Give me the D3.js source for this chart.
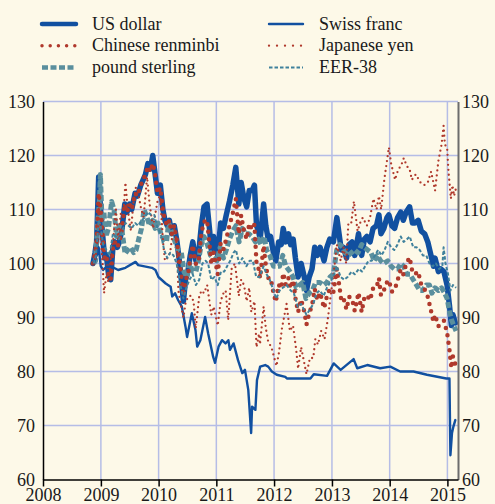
<!DOCTYPE html>
<html><head><meta charset="utf-8">
<script src="https://cdn.jsdelivr.net/npm/d3@7"></script>
<style>html,body{margin:0;padding:0;background:#fdf9e8;}svg{display:block;} text{font-family:"Liberation Serif","Times New Roman",serif;}</style>
</head><body>
<svg id="chart" width="495" height="504"></svg>
<script>
// ---- data (index, start of period = 100) ----
const usDollar = [["2008-11-12",100],["2008-11-25",102],["2008-12-05",104],["2008-12-18",116],["2008-12-30",110],["2009-01-10",106],["2009-01-25",101],["2009-02-05",101.5],["2009-02-18",98],["2009-03-04",97],["2009-03-18",103],["2009-03-30",104],["2009-04-15",103],["2009-04-28",104],["2009-05-15",106.5],["2009-06-01",111],["2009-06-15",109.5],["2009-07-01",111],["2009-07-15",110],["2009-08-05",113],["2009-08-20",112.5],["2009-09-10",114.5],["2009-09-25",115.5],["2009-10-10",116.5],["2009-10-25",118.5],["2009-11-10",117.5],["2009-11-25",120],["2009-12-10",116.5],["2009-12-25",113],["2010-01-12",114.5],["2010-01-28",110],["2010-02-10",108],["2010-02-25",107],["2010-03-10",108],["2010-03-25",105.5],["2010-04-10",107],["2010-04-25",104.5],["2010-05-10",101],["2010-05-25",97],["2010-06-07",93],["2010-06-20",97],["2010-07-05",98.5],["2010-07-20",101.5],["2010-08-05",104],["2010-08-25",100.5],["2010-09-10",101.5],["2010-09-28",107],["2010-10-15",110.5],["2010-11-03",111],["2010-11-20",106],["2010-11-30",102.5],["2010-12-15",105],["2011-01-10",101.5],["2011-01-28",107.5],["2011-02-15",106.5],["2011-03-05",109],["2011-03-25",111.5],["2011-04-15",114.5],["2011-05-04",117.8],["2011-05-23",111],["2011-06-07",115],["2011-06-25",112],["2011-07-12",110.5],["2011-07-28",113.5],["2011-08-15",113.5],["2011-08-30",114.5],["2011-09-12",107],["2011-09-25",106],["2011-10-05",104.5],["2011-10-27",111],["2011-11-10",107],["2011-11-25",104.5],["2011-12-10",105],["2011-12-28",102],["2012-01-12",100.5],["2012-01-30",104],["2012-02-15",103.5],["2012-02-28",106.5],["2012-03-15",104],["2012-04-01",105.5],["2012-04-15",103.5],["2012-05-01",104.5],["2012-05-15",101],["2012-06-01",97.5],["2012-06-20",100],["2012-07-10",97.5],["2012-07-24",95],["2012-08-10",97.5],["2012-08-28",99],["2012-09-14",103],["2012-10-01",101.5],["2012-10-18",103],["2012-11-12",100.5],["2012-11-30",103],["2012-12-18",104.5],["2013-01-10",104],["2013-02-01",108.5],["2013-02-15",105.5],["2013-03-01",102.5],["2013-03-15",103],["2013-04-03",101],["2013-04-20",103.5],["2013-05-08",104],["2013-05-25",101.5],["2013-06-18",105.5],["2013-07-08",101.5],["2013-07-25",104.5],["2013-08-10",105],["2013-08-30",104],["2013-09-18",106.5],["2013-10-10",107],["2013-10-25",109],["2013-11-07",105.5],["2013-11-25",106.5],["2013-12-15",108.5],["2013-12-27",109],["2014-01-15",107],["2014-02-01",106.5],["2014-02-20",108.5],["2014-03-12",109.5],["2014-03-28",108],["2014-04-15",109.5],["2014-05-07",110.5],["2014-05-25",107.5],["2014-06-10",107.5],["2014-06-30",108],["2014-07-20",106],["2014-08-10",105.5],["2014-08-30",104],["2014-09-15",102],["2014-10-05",99.5],["2014-10-15",101],["2014-11-05",98.5],["2014-11-20",99],["2014-12-10",98.5],["2014-12-30",96],["2015-01-15",92],["2015-01-26",88.5],["2015-02-05",90.5],["2015-02-20",89]];

const chineseRenminbi = [["2008-11-12",100],["2008-11-25",102],["2008-12-05",104],["2008-12-18",113],["2008-12-30",110],["2009-01-10",106],["2009-01-25",101],["2009-02-05",101.5],["2009-02-18",98],["2009-03-04",97],["2009-03-18",103],["2009-03-30",104],["2009-04-15",103],["2009-04-28",104],["2009-05-15",106.5],["2009-06-01",111],["2009-06-15",109.5],["2009-07-01",111],["2009-07-15",110],["2009-08-05",113],["2009-08-20",112.5],["2009-09-10",114.5],["2009-09-25",115.5],["2009-10-10",116.5],["2009-10-25",118],["2009-11-10",117],["2009-11-25",118.5],["2009-12-10",116.5],["2009-12-25",113],["2010-01-12",114],["2010-01-28",110],["2010-02-10",108],["2010-02-25",107],["2010-03-10",108],["2010-03-25",105.5],["2010-04-10",107],["2010-04-25",104.5],["2010-05-10",101],["2010-05-25",97.5],["2010-06-07",94],["2010-06-20",97],["2010-07-05",97.8],["2010-07-20",100.8],["2010-08-05",103.4],["2010-08-25",99.9],["2010-09-10",100.2],["2010-09-28",105.6],["2010-10-15",107.7],["2010-11-03",108.1],["2010-11-20",103.2],["2010-11-30",99.8],["2010-12-15",102],["2011-01-10",98],["2011-01-28",103.7],["2011-02-15",102.6],["2011-03-05",104.6],["2011-03-25",107],["2011-04-15",109.3],["2011-05-04",112],["2011-05-23",105.5],["2011-06-07",108.9],["2011-06-25",106],["2011-07-12",104.5],["2011-07-28",107.4],["2011-08-15",106.3],["2011-08-30",107.2],["2011-09-12",100],["2011-09-25",99],["2011-10-05",97.3],["2011-10-27",103.3],["2011-11-10",99.6],["2011-11-25",97.3],["2011-12-10",97.3],["2011-12-28",94.6],["2012-01-12",92.9],["2012-01-30",96.1],["2012-02-15",95.4],["2012-02-28",98.2],["2012-03-15",96.1],["2012-04-01",97.3],["2012-04-15",95.4],["2012-05-01",96.9],["2012-05-15",93.6],["2012-06-01",91],["2012-06-20",93.3],["2012-07-10",91.1],["2012-07-24",88.7],["2012-08-10",90.8],["2012-08-28",92.2],["2012-09-14",95.3],["2012-10-01",93.2],["2012-10-18",94.6],["2012-11-12",91.7],["2012-11-30",93.9],["2012-12-18",95.3],["2013-01-10",94.7],["2013-02-01",99],["2013-02-15",96.2],["2013-03-01",93.2],["2013-03-15",93.6],["2013-04-03",91.5],["2013-04-20",93.8],["2013-05-08",93.5],["2013-05-25",91.2],["2013-06-18",94.6],["2013-07-08",91],["2013-07-25",93.7],["2013-08-10",94.1],["2013-08-30",93.2],["2013-09-18",95.4],["2013-10-10",95.6],["2013-10-25",97.3],["2013-11-07",94.1],["2013-11-25",95],["2013-12-15",96.5],["2013-12-27",96.9],["2014-01-15",94.8],["2014-02-01",95.1],["2014-02-20",96.9],["2014-03-12",98.9],["2014-03-28",98],["2014-04-15",99.9],["2014-05-07",101.1],["2014-05-25",98.4],["2014-06-10",98],["2014-06-30",98.5],["2014-07-20",96],["2014-08-10",95.2],["2014-08-30",93.8],["2014-09-15",91.8],["2014-10-05",89.2],["2014-10-15",90.5],["2014-11-05",88.4],["2014-11-20",88.8],["2014-12-10",89.4],["2014-12-30",87.2],["2015-01-15",83.8],["2015-01-26",80.6],["2015-02-05",82.8],["2015-02-20",81.4]];

const poundSterling = [["2008-11-17",100],["2008-11-28",100.5],["2008-12-10",107],["2008-12-22",111],["2008-12-29",116.5],["2009-01-08",108],["2009-01-20",109.5],["2009-02-02",105],["2009-02-18",106.5],["2009-03-10",111.5],["2009-03-25",110],["2009-04-10",105],["2009-04-28",107],["2009-05-15",106],["2009-06-03",101.8],["2009-06-20",102.5],["2009-07-08",103],["2009-07-28",102],["2009-08-12",102.5],["2009-08-28",104.5],["2009-09-15",106.5],["2009-10-01",110],["2009-10-20",108.5],["2009-11-05",107],["2009-11-25",108],["2009-12-10",106.5],["2009-12-28",107.5],["2010-01-15",105.5],["2010-02-01",104.5],["2010-02-20",104],["2010-03-05",107.5],["2010-03-25",106],["2010-04-15",104],["2010-05-05",102.5],["2010-05-25",102],["2010-06-10",98.5],["2010-06-28",97.5],["2010-07-15",100],["2010-08-05",98.5],["2010-08-25",98.5],["2010-09-10",100.5],["2010-09-28",103.5],["2010-10-15",105],["2010-11-05",103.5],["2010-11-25",101.5],["2010-12-15",101],["2011-01-05",100.5],["2011-01-25",103],["2011-02-15",101],["2011-03-05",102.5],["2011-03-25",104.5],["2011-04-15",106],["2011-05-05",107],["2011-05-25",104],["2011-06-15",106.5],["2011-07-05",105.5],["2011-07-25",105.5],["2011-08-15",105],["2011-09-05",104],["2011-09-25",104.5],["2011-10-10",103.5],["2011-10-30",105],["2011-11-15",102.5],["2011-12-05",101.5],["2011-12-28",99.5],["2012-01-15",99.5],["2012-02-05",99.5],["2012-02-25",101.5],["2012-03-15",99.5],["2012-04-10",98.5],["2012-04-30",97.5],["2012-05-20",95.5],["2012-06-10",96],["2012-06-30",96.5],["2012-07-20",93.5],["2012-08-10",94.5],["2012-08-30",95],["2012-09-20",96.5],["2012-10-15",96.5],["2012-11-10",96],["2012-11-30",96.5],["2012-12-20",97.5],["2013-01-10",98],["2013-01-31",102.5],["2013-02-20",103.5],["2013-03-10",103],["2013-03-25",102],["2013-04-15",101.5],["2013-05-05",102],["2013-05-25",102.5],["2013-06-15",102],["2013-07-08",103.5],["2013-07-25",103],["2013-08-15",102.5],["2013-09-05",102],["2013-09-25",100.5],["2013-10-15",101.5],["2013-11-05",100.5],["2013-11-25",100],["2013-12-20",100.5],["2014-01-10",99.5],["2014-01-30",99],["2014-02-20",99],["2014-03-12",100],["2014-03-30",99.5],["2014-04-20",98],["2014-05-10",98],["2014-05-30",97],["2014-06-20",96],["2014-07-10",95],["2014-07-28",95],["2014-08-20",96],["2014-09-10",96],["2014-09-25",94.5],["2014-10-15",95.5],["2014-11-05",95],["2014-11-25",95.5],["2014-12-15",94.5],["2014-12-30",93.5],["2015-01-15",91],["2015-01-28",89.5],["2015-02-10",88.5],["2015-02-25",87.5]];

const swissFranc = [["2008-11-17",100],["2008-12-05",101.5],["2008-12-18",103],["2008-12-31",99.5],["2009-01-15",98.8],["2009-02-05",99.4],["2009-03-12",99.4],["2009-04-20",98.8],["2009-06-05",99.2],["2009-08-08",100.3],["2009-08-25",99.7],["2009-11-20",99.2],["2009-12-12",98.8],["2009-12-31",97.5],["2010-02-15",96.3],["2010-03-18",95.7],["2010-03-28",93.9],["2010-04-15",94.5],["2010-05-05",93.2],["2010-05-28",92],["2010-06-20",88.3],["2010-06-30",86.4],["2010-07-30",90.8],["2010-08-22",87.7],["2010-09-02",84.6],["2010-09-22",85.8],["2010-10-22",90.1],["2010-11-10",87.1],["2010-12-12",82.7],["2010-12-24",81.6],["2011-01-15",84.6],["2011-02-06",85.8],["2011-02-28",85.2],["2011-03-18",85.8],["2011-03-28",84],["2011-04-20",85.2],["2011-05-18",82.1],["2011-06-14",79.7],["2011-07-01",80.3],["2011-07-22",76.6],["2011-08-09",68.6],["2011-08-15",73.5],["2011-09-05",72.9],["2011-09-15",78.4],["2011-10-05",80.9],["2011-11-06",81.2],["2011-11-25",80.9],["2011-12-18",80],["2012-01-18",79.4],["2012-03-12",79],["2012-03-22",78.7],["2012-08-18",78.7],["2012-09-08",79.5],["2012-12-01",79.2],["2013-01-12",81.5],["2013-02-25",80.3],["2013-05-18",82.3],["2013-06-10",80.6],["2013-08-12",81.2],["2013-11-02",80.6],["2014-01-05",80.9],["2014-03-08",80],["2014-06-01",80],["2014-08-25",79.4],["2014-12-25",78.7],["2015-01-14",78.7],["2015-01-20",64.5],["2015-01-30",68.6],["2015-02-08",69.8],["2015-02-20",71]];

const japaneseYen = [["2008-11-17",100],["2008-11-28",101],["2008-12-10",104],["2008-12-18",111],["2008-12-30",105],["2009-01-12",100],["2009-01-21",94.5],["2009-02-05",98],["2009-02-18",96.5],["2009-03-05",101],["2009-03-19",104],["2009-04-06",110],["2009-04-20",104.5],["2009-05-08",109.5],["2009-05-25",110],["2009-06-05",115],["2009-06-20",110],["2009-07-10",106],["2009-07-28",112],["2009-08-10",114],["2009-08-25",113],["2009-09-10",110.5],["2009-09-28",108.5],["2009-10-20",116],["2009-11-05",111],["2009-11-27",106.5],["2009-12-10",109],["2009-12-28",112],["2010-01-11",112.5],["2010-01-29",104],["2010-02-10",100.5],["2010-02-25",101],["2010-03-15",102],["2010-03-30",105.5],["2010-04-13",106.5],["2010-04-27",103],["2010-05-06",95],["2010-05-20",92.5],["2010-06-07",90],["2010-06-22",93],["2010-07-12",94],["2010-07-25",94],["2010-08-10",93],["2010-08-24",88],["2010-09-15",94],["2010-09-30",95],["2010-10-15",94.5],["2010-11-04",96],["2010-11-30",90.5],["2010-12-15",92],["2011-01-10",88.5],["2011-01-28",93],["2011-02-15",94.5],["2011-03-01",95],["2011-03-17",89.5],["2011-04-08",99],["2011-04-29",100],["2011-05-23",94],["2011-06-07",97],["2011-06-25",96],["2011-07-12",93],["2011-07-28",95.5],["2011-08-10",91],["2011-08-30",93],["2011-09-12",84.5],["2011-09-28",87],["2011-10-04",85],["2011-10-27",92],["2011-11-10",88],["2011-11-25",85.5],["2011-12-15",84.5],["2011-12-29",83],["2012-01-16",81],["2012-02-01",83.5],["2012-02-20",88],["2012-03-20",92.5],["2012-04-10",87.5],["2012-04-30",88.5],["2012-05-20",84],["2012-06-01",80.5],["2012-06-20",84.5],["2012-07-24",79.5],["2012-08-15",82.5],["2012-09-05",82.5],["2012-09-18",86],["2012-10-05",85],["2012-10-25",87.5],["2012-11-15",86],["2012-12-05",89.5],["2012-12-28",95],["2013-01-15",99],["2013-02-01",103.5],["2013-02-25",100.5],["2013-03-15",103],["2013-04-01",100],["2013-04-15",107.5],["2013-05-03",107.5],["2013-05-20",111.5],["2013-06-12",106],["2013-06-28",107.5],["2013-07-15",108.5],["2013-08-10",107],["2013-08-30",108.5],["2013-09-20",112],["2013-10-10",110],["2013-10-25",112.5],["2013-11-08",110],["2013-11-28",115.5],["2013-12-27",121.5],["2014-01-10",118.5],["2014-02-04",115.5],["2014-02-25",117.5],["2014-03-13",118],["2014-03-31",119.5],["2014-04-20",118],["2014-05-07",117.5],["2014-05-21",115.5],["2014-06-15",116.5],["2014-07-15",115],["2014-08-07",114.5],["2014-08-30",115],["2014-09-20",117],["2014-10-15",113.5],["2014-11-05",119],["2014-11-25",122],["2014-12-08",125.5],["2014-12-16",122],["2014-12-30",121.5],["2015-01-08",117],["2015-01-23",112],["2015-02-02",114.5],["2015-02-12",112.5],["2015-02-25",114]];

const eer38 = [["2008-11-17",100],["2008-12-01",101.5],["2008-12-18",108],["2008-12-30",107],["2009-01-15",103.5],["2009-02-05",102.5],["2009-02-25",101.5],["2009-03-18",105.5],["2009-04-05",105],["2009-04-25",104.5],["2009-05-15",106],["2009-06-05",107.5],["2009-06-25",107],["2009-07-15",106.5],["2009-08-05",107.5],["2009-08-25",107],["2009-09-15",108],["2009-10-05",108.5],["2009-10-25",109.5],["2009-11-15",109],["2009-12-05",109],["2009-12-25",106.5],["2010-01-15",105.5],["2010-02-05",102.5],["2010-02-25",101],["2010-03-15",102],["2010-04-05",101.5],["2010-04-25",100],["2010-05-15",96.5],["2010-06-07",93.5],["2010-06-25",95.5],["2010-07-15",97],["2010-08-05",98],["2010-08-25",96],["2010-09-15",97],["2010-10-05",100],["2010-10-25",100.5],["2010-11-10",100],["2010-11-30",97],["2010-12-20",97.5],["2011-01-10",96],["2011-01-30",98.5],["2011-02-20",98.5],["2011-03-10",99.5],["2011-03-30",100.5],["2011-04-20",102],["2011-05-05",102.5],["2011-05-25",100],["2011-06-15",101],["2011-07-10",99.5],["2011-07-30",100.5],["2011-08-20",100.5],["2011-09-10",97.5],["2011-09-30",97.5],["2011-10-27",99.5],["2011-11-15",98],["2011-12-05",97],["2011-12-28",95],["2012-01-15",93.5],["2012-02-05",95],["2012-02-25",95.5],["2012-03-20",96],["2012-04-15",95],["2012-05-05",94.5],["2012-05-30",92],["2012-06-20",92.5],["2012-07-24",90.5],["2012-08-15",91.5],["2012-09-05",92.5],["2012-09-25",94.5],["2012-10-15",95],["2012-11-10",94],["2012-11-30",95.5],["2012-12-20",96.5],["2013-01-15",98],["2013-02-01",99.5],["2013-02-25",97.5],["2013-03-20",97],["2013-04-10",97.5],["2013-05-05",98.5],["2013-05-25",98],["2013-06-20",99],["2013-07-10",98.5],["2013-07-30",99.5],["2013-08-20",100.5],["2013-09-10",100.5],["2013-09-30",101.5],["2013-10-20",102.5],["2013-11-10",101.5],["2013-11-30",102.5],["2013-12-20",104],["2014-01-10",103],["2014-01-30",102.5],["2014-02-20",103.5],["2014-03-12",105],["2014-03-30",104],["2014-04-20",104.5],["2014-05-08",105],["2014-05-30",103],["2014-06-20",103],["2014-07-10",102.5],["2014-07-30",101.5],["2014-08-20",101.5],["2014-09-10",100],["2014-09-30",99.5],["2014-10-20",100],["2014-11-10",99],["2014-11-30",99.5],["2014-12-08",103],["2014-12-20",100],["2015-01-05",98],["2015-01-20",95],["2015-02-05",96],["2015-02-25",95.5]];

const yTickValues = [60, 70, 80, 90, 100, 110, 120, 130];
const xTickYears = [2008, 2009, 2010, 2011, 2012, 2013, 2014, 2015];
const seriesNames = ["US dollar", "Chinese renminbi", "pound sterling", "Swiss franc", "Japanese yen", "EER-38"];

(function () {
  const W = 495, H = 504;
  const mLeft = 43, mRight = 458, mTop = 101.5, mBottom = 479.5;
  const FONT = '"Liberation Serif", "Times New Roman", serif';
  const parse = d3.timeParse("%Y-%m-%d");

  const svg = d3.select("#chart");
  svg.append("rect").attr("width", W).attr("height", H).attr("fill", "#fdf9e8");

  const x = d3.scaleTime().domain([new Date(2008, 0, 1), new Date(2015, 2, 9)]).range([mLeft, mRight]);
  const y = d3.scaleLinear().domain([60, 130]).range([mBottom, mTop]);
  const tickDates = xTickYears.map(yr => new Date(yr, 0, 1));

  // grid
  const grid = svg.append("g").attr("stroke", "#b5bde6").attr("stroke-width", 1.5);
  grid.selectAll("line.h").data(yTickValues.filter(v => v > 60)).join("line").attr("class", "h")
    .attr("x1", mLeft).attr("x2", mRight).attr("y1", d => y(d)).attr("y2", d => y(d));
  grid.selectAll("line.v").data(tickDates.slice(1)).join("line").attr("class", "v")
    .attr("x1", d => x(d)).attr("x2", d => x(d)).attr("y1", mTop).attr("y2", mBottom);

  // series styles
  const styles = {
    "US dollar":        {data: usDollar,        color: "#1150a0", width: 5.5, dash: null,    cap: "round"},
    "pound sterling":   {data: poundSterling,   color: "#5a8f9d", width: 5,   dash: "6 2.5", cap: "butt"},
    "Chinese renminbi": {data: chineseRenminbi, color: "#b0392c", width: 4.5, dash: "0 7.5", cap: "round"},
    "Swiss franc":      {data: swissFranc,      color: "#1150a0", width: 2.4, dash: null,    cap: "round"},
    "Japanese yen":     {data: japaneseYen,     color: "#b0392c", width: 2.3, dash: "0 5",   cap: "round"},
    "EER-38":           {data: eer38,           color: "#3f819c", width: 2,   dash: "3.5 2", cap: "butt"}
  };
  const drawOrder = ["US dollar", "pound sterling", "Chinese renminbi", "Swiss franc", "Japanese yen", "EER-38"];
  const line = d3.line().x(d => x(parse(d[0]))).y(d => y(d[1]));
  const plot = svg.append("g");
  drawOrder.forEach(name => {
    const s = styles[name];
    plot.append("path").datum(s.data).attr("d", line)
      .attr("fill", "none").attr("stroke", s.color).attr("stroke-width", s.width)
      .attr("stroke-linecap", s.cap).attr("stroke-linejoin", "round")
      .attr("stroke-dasharray", s.dash);
  });

  // axes
  const yAxisL = svg.append("g").attr("transform", `translate(${mLeft},0)`)
    .call(d3.axisLeft(y).tickValues(yTickValues).tickSize(0).tickSizeOuter(0).tickPadding(8));
  const yAxisR = svg.append("g").attr("transform", `translate(${mRight},0)`)
    .call(d3.axisRight(y).tickValues(yTickValues).tickSize(0).tickSizeOuter(0).tickPadding(4));
  const xAxis = svg.append("g").attr("transform", `translate(0,${mBottom})`)
    .call(d3.axisBottom(x).tickValues(tickDates).tickFormat(d3.timeFormat("%Y")).tickSize(7).tickSizeOuter(0).tickPadding(2));

  [yAxisL, yAxisR, xAxis].forEach(g => {
    g.attr("font-family", null);
    g.selectAll("text").style("font-family", FONT).attr("font-size", 18).attr("fill", "#1a1a1a");
  });
  yAxisL.select(".domain").attr("stroke", "#000").attr("stroke-width", 1.5);
  yAxisR.select(".domain").attr("stroke", "#6d6d6d").attr("stroke-width", 2);
  xAxis.select(".domain").attr("stroke", "#000").attr("stroke-width", 1.5);
  xAxis.selectAll(".tick line").attr("stroke", "#000").attr("stroke-width", 1.5);

  // legend
  const legendPos = [
    {name: "US dollar",        lx: 42,  ly: 24},
    {name: "Chinese renminbi", lx: 42,  ly: 45.7},
    {name: "pound sterling",   lx: 42,  ly: 67.5},
    {name: "Swiss franc",      lx: 269, ly: 24},
    {name: "Japanese yen",     lx: 269, ly: 45.7},
    {name: "EER-38",           lx: 269, ly: 67.5}
  ];
  const legend = svg.append("g");
  legendPos.forEach(p => {
    const s = styles[p.name];
    legend.append("line").attr("x1", p.lx).attr("x2", p.lx + 34).attr("y1", p.ly).attr("y2", p.ly)
      .attr("stroke", s.color)
      .attr("stroke-width", p.name === "Chinese renminbi" ? 3.5 : (p.name === "US dollar" ? 4.5 : (p.name === "pound sterling" ? 4.5 : s.width)))
      .attr("stroke-linecap", s.cap)
      .attr("stroke-dasharray", p.name === "Chinese renminbi" ? "0 8.2" : (p.name === "Japanese yen" ? "0 8" : s.dash));
    legend.append("text").attr("x", p.lx + 50).attr("y", p.ly).attr("dy", "0.32em")
      .style("font-family", FONT).attr("font-size", 18).attr("fill", "#1a1a1a").text(p.name);
  });
})();
</script>
</body></html>
